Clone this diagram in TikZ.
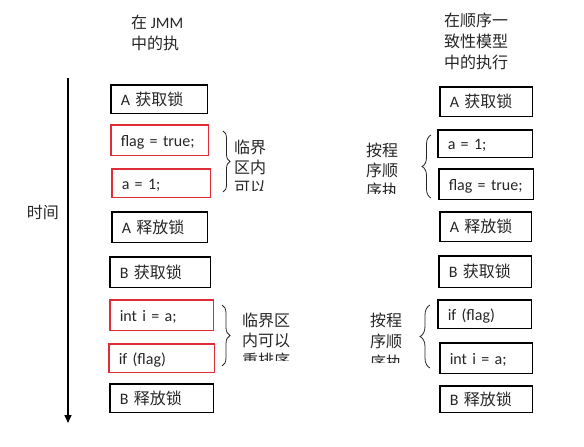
\documentclass[tikz,border=0pt]{standalone}
\usepackage{fontspec}
\setmainfont{Carlito}
\newfontfamily\cjk{Noto Sans CJK SC}
\usetikzlibrary{positioning,arrows.meta,decorations.pathreplacing}
\definecolor{critred}{RGB}{222,45,55}
\definecolor{inkgray}{RGB}{38,38,38}
\tikzset{%
  stmt/.style={draw=black,line width=1.5pt,anchor=north west,inner xsep=10pt,inner ysep=0pt,
    text height=14pt,text depth=2pt,align=left,text=inkgray,font=\fontsize{16}{20}\selectfont},
  crit/.style={stmt,draw=critred},
  remark/.style={anchor=north west,inner sep=0pt,align=left,text=inkgray,font=\cjk\fontsize{16}{20}\selectfont},
  brc/.style={decorate,decoration={brace,amplitude=#1},draw=inkgray,line width=0.8pt}
}

\begin{document}
\begin{tikzpicture}[x=1pt,y=-1pt]
  \useasboundingbox (0,0) rectangle (584,447);

  % titles
  \node[remark,font=\fontsize{16}{21}\selectfont] (ltitle) at (131,15) {{\cjk 在} JMM\\{\cjk 中的执}};
  \node[remark,font=\cjk\fontsize{16}{21}\selectfont] (rtitle) at (444,13) {在顺序一\\致性模型\\中的执行};

  % time axis
  \coordinate (tstart) at (68,78);
  \coordinate (tend) at (68,423);
  \coordinate (tmid) at (68,212);
  \draw[line width=1.5pt,-{Triangle[width=7pt,length=8pt]}] (tstart) -- (tend);
  \node[remark,anchor=east,left=9pt of tmid] (time) {时间};

  % JMM side
  \node[stmt,text width=76.5pt,minimum height=28.5pt] (lacq) at (110,84) {A {\cjk 获取锁}};
  \node[crit,text width=77.5pt,minimum height=30.5pt] (lflag) at (110,124) {flag = true;};
  \node[crit,text width=78.5pt,minimum height=28.5pt] (la) at (111,168) {a = 1;};
  \node[stmt,text width=75.5pt,minimum height=30.5pt] (lrel) at (111,211) {A {\cjk 释放锁}};
  \node[stmt,text width=80.5pt,minimum height=30.5pt] (lbacq) at (109,256) {B {\cjk 获取锁}};
  \node[crit,text width=83.5pt,minimum height=30.5pt] (li) at (109,299) {int i = a;};
  \node[crit,text width=85.5pt,minimum height=28.5pt] (lif) at (108,343) {if (flag)};
  \node[stmt,text width=83.5pt,minimum height=28.5pt] (lbrel) at (109,383) {B {\cjk 释放锁}};

  % sequential consistency side
  \node[stmt,text width=72.5pt,minimum height=29.5pt] (racq) at (439,86) {A {\cjk 获取锁}};
  \node[stmt,text width=74.5pt,minimum height=27.5pt] (ra) at (437,129) {a = 1;};
  \node[stmt,text width=74.5pt,minimum height=30.5pt] (rflag) at (438,168) {flag = true;};
  \node[stmt,text width=71.5pt,minimum height=29.5pt] (rrel) at (439,211) {A {\cjk 释放锁}};
  \node[stmt,text width=72.5pt,minimum height=31.5pt] (rbacq) at (438,255) {B {\cjk 获取锁}};
  \node[stmt,text width=73.5pt,minimum height=28.5pt] (rif) at (437,299) {if (flag)};
  \node[stmt,text width=72.5pt,minimum height=30.5pt] (ri) at (439,342) {int i = a;};
  \node[stmt,text width=72.5pt,minimum height=26.5pt] (rbrel) at (439,385) {B {\cjk 释放锁}};

  % braces
  \coordinate (lb1top) at (223,131);
  \coordinate (lb1bot) at (223,192);
  \coordinate (lb2top) at (222,305);
  \coordinate (lb2bot) at (222,366);
  \coordinate (rb1top) at (431,135);
  \coordinate (rb1bot) at (431,198);
  \coordinate (rb2top) at (430,305);
  \coordinate (rb2bot) at (430,368);
  \draw[brc=7pt] (lb1top) -- (lb1bot);
  \draw[brc=8pt] (lb2top) -- (lb2bot);
  \draw[brc=9pt] (rb1bot) -- (rb1top);
  \draw[brc=10pt] (rb2bot) -- (rb2top);

  % brace labels, cut off at the bottom
  \begin{scope}
    \clip (230,130) rectangle (300,190);
    \node[remark] (lnote1) at (234,140) {临界\\区内\\可以};
  \end{scope}
  \begin{scope}
    \clip (235,300) rectangle (300,360);
    \node[remark] (lnote2) at (242,313) {临界区\\内可以\\重排序};
  \end{scope}
  \begin{scope}
    \clip (360,130) rectangle (415,193);
    \node[remark] (rnote1) at (366,143) {按程\\序顺\\序执};
  \end{scope}
  \begin{scope}
    \clip (360,300) rectangle (415,362);
    \node[remark,font=\cjk\fontsize{16}{21}\selectfont] (rnote2) at (370,313) {按程\\序顺\\序执};
  \end{scope}
\end{tikzpicture}
\end{document}
